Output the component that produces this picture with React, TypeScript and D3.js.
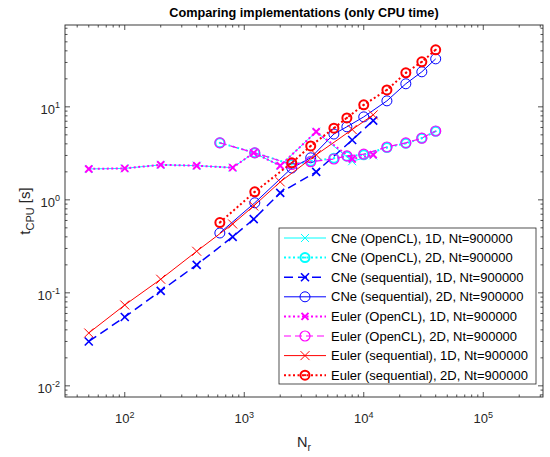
import React from 'react';
import * as d3 from 'd3';

// N_r values for the 1D and 2D runs
const nr1D = [50, 100, 200, 400, 800, 1200, 2000, 4000, 8000, 12000];
const nr2D = [625, 1225, 2500, 3600, 5625, 7225, 10000, 15625, 22500, 30625, 40000];

// CPU times [s]
const cneOpenCL1D = [2.15, 2.18, 2.38, 2.33, 2.22, 3.2, 2.33, 5.4, 2.6, 3.0];
const cneOpenCL2D = [4.1, 3.2, 2.4, 2.6, 2.8, 2.95, 3.05, 3.65, 4.05, 4.6, 5.45];
const cneSeq1D = [0.03, 0.055, 0.105, 0.2, 0.4, 0.62, 1.19, 2.0, 4.4, 7.1];
const cneSeq2D = [0.44, 0.93, 2.2, 2.83, 5.1, 6.1, 7.8, 11.6, 17.7, 23.8, 32.8];
const eulerOpenCL1D = [2.15, 2.18, 2.38, 2.33, 2.22, 3.2, 2.33, 5.4, 2.75, 3.05];
const eulerOpenCL2D = [4.1, 3.2, 2.4, 2.57, 2.75, 2.97, 3.1, 3.7, 4.1, 4.6, 5.5];
const eulerSeq1D = [0.037, 0.074, 0.14, 0.28, 0.55, 0.86, 1.56, 3.05, 5.7, 8.2];
const eulerSeq2D = [0.57, 1.22, 2.5, 3.8, 5.9, 7.6, 10.5, 15.2, 23.2, 30.5, 41];

const xMajor = [1e2, 1e3, 1e4, 1e5];
const yMajor = [1e-2, 1e-1, 1e0, 1e1];

type Series = {
  name: string;
  xs: number[];
  ys: number[];
  color: string;
  dash: string | null;
  lw: number;
  marker: 'x' | 'o';
  mlw: number;
  size: number;
  dotted?: boolean;
};

const series: Series[] = [
  { name: 'CNe (OpenCL), 1D, Nt=900000', xs: nr1D, ys: cneOpenCL1D, color: '#00ffff', dash: null, lw: 1, marker: 'x', mlw: 1, size: 4 },
  { name: 'CNe (OpenCL), 2D, Nt=900000', xs: nr2D, ys: cneOpenCL2D, color: '#00ffff', dash: '2 2.5', lw: 2, marker: 'o', mlw: 2, size: 4.5, dotted: true },
  { name: 'CNe (sequential), 1D, Nt=900000', xs: nr1D, ys: cneSeq1D, color: '#0000ff', dash: '9 5', lw: 1.5, marker: 'x', mlw: 1.6, size: 4 },
  { name: 'CNe (sequential), 2D, Nt=900000', xs: nr2D, ys: cneSeq2D, color: '#0000ff', dash: null, lw: 1, marker: 'o', mlw: 1, size: 5 },
  { name: 'Euler (OpenCL), 1D, Nt=900000', xs: nr1D, ys: eulerOpenCL1D, color: '#ff00ff', dash: '2 2.5', lw: 2, marker: 'x', mlw: 2, size: 3.5 },
  { name: 'Euler (OpenCL), 2D, Nt=900000', xs: nr2D, ys: eulerOpenCL2D, color: '#ff00ff', dash: '7 4', lw: 1.2, marker: 'o', mlw: 1.2, size: 5 },
  { name: 'Euler (sequential), 1D, Nt=900000', xs: nr1D, ys: eulerSeq1D, color: '#ff0000', dash: null, lw: 1, marker: 'x', mlw: 1, size: 4.5 },
  { name: 'Euler (sequential), 2D, Nt=900000', xs: nr2D, ys: eulerSeq2D, color: '#ff0000', dash: '2 2.5', lw: 2, marker: 'o', mlw: 2, size: 4.5, dotted: true },
];

const W = 550;
const H = 457;
const L = 65, R = 543, T = 25, B = 397;
const FONT = "'Liberation Sans', Arial, Helvetica, sans-serif";
const AX = '#262626';

const x = d3.scaleLog().domain([Math.pow(10, 1.5), Math.pow(10, 5.5)]).range([L, R]);
const y = d3.scaleLog().domain([Math.pow(10, -2.12), Math.pow(10, 1.88)]).range([B, T]);

const isMajor = (v: number) => Math.abs(Math.log10(v) - Math.round(Math.log10(v))) < 1e-9;

function Marker({ s, cx, cy }: { s: Series; cx: number; cy: number }) {
  const r = s.size;
  if (s.marker === 'x') {
    return (
      <path
        d={`M${cx - r},${cy - r}L${cx + r},${cy + r}M${cx - r},${cy + r}L${cx + r},${cy - r}`}
        stroke={s.color}
        strokeWidth={s.mlw}
        fill="none"
      />
    );
  }
  return (
    <g>
      <circle cx={cx} cy={cy} r={r} stroke={s.color} strokeWidth={s.mlw} fill="none" />
      {s.dotted && <circle cx={cx} cy={cy} r={1.1} fill={s.color} />}
    </g>
  );
}

function Pow10({ e, ...rest }: { e: number } & React.SVGProps<SVGTextElement>) {
  return (
    <text {...rest}>
      10
      <tspan dy={-5.5} fontSize={9}>{e}</tspan>
    </text>
  );
}

export default function App() {
  const line = d3.line<[number, number]>().x(d => x(d[0])).y(d => y(d[1]));
  const xTicks = x.ticks().filter(v => v >= x.domain()[0] && v <= x.domain()[1]);
  const yTicks = y.ticks().filter(v => v >= y.domain()[0] && v <= y.domain()[1]);

  const legX = 279, legY = 228, legW = 257, legH = 156;
  const rowH = 19.6;

  return (
    <svg
      width={W}
      height={H}
      viewBox={`0 0 ${W} ${H}`}
      style={{ position: 'absolute', left: 0, top: 0, background: '#fff' }}
      fontFamily={FONT}
    >
      <rect x={0} y={0} width={W} height={H} fill="#fff" />
      <rect x={L} y={T} width={R - L} height={B - T} fill="#fff" />

      {/* ticks */}
      <g stroke={AX} strokeWidth={0.8}>
        {xTicks.map(v => {
          const len = isMajor(v) ? 5 : 2.5;
          const px = x(v);
          return (
            <g key={'xt' + v}>
              <line x1={px} x2={px} y1={B} y2={B - len} />
              <line x1={px} x2={px} y1={T} y2={T + len} />
            </g>
          );
        })}
        {yTicks.map(v => {
          const len = isMajor(v) ? 5 : 2.5;
          const py = y(v);
          return (
            <g key={'yt' + v}>
              <line x1={L} x2={L + len} y1={py} y2={py} />
              <line x1={R} x2={R - len} y1={py} y2={py} />
            </g>
          );
        })}
      </g>

      {/* series */}
      {series.map(s => {
        const pts = s.xs.map((v, i) => [v, s.ys[i]] as [number, number]);
        return (
          <g key={s.name}>
            <path
              d={line(pts) ?? ''}
              fill="none"
              stroke={s.color}
              strokeWidth={s.lw}
              strokeDasharray={s.dash ?? undefined}
            />
            {pts.map((p, i) => (
              <Marker key={i} s={s} cx={x(p[0])} cy={y(p[1])} />
            ))}
          </g>
        );
      })}

      {/* axes box */}
      <rect x={L} y={T} width={R - L} height={B - T} fill="none" stroke={AX} strokeWidth={0.9} />

      {/* tick labels */}
      <g fill={AX} fontSize={13}>
        {xMajor.map(v => (
          <Pow10 key={'xl' + v} e={Math.round(Math.log10(v))} x={x(v)} y={423} textAnchor="middle" />
        ))}
        {yMajor.map(v => (
          <Pow10 key={'yl' + v} e={Math.round(Math.log10(v))} x={60} y={y(v) + 7} textAnchor="end" />
        ))}
      </g>

      {/* axis labels */}
      <text x={(L + R) / 2} y={447} textAnchor="middle" fontSize={14.5} fill={AX}>
        N<tspan dy={4} fontSize={10.5}>r</tspan>
      </text>
      <text transform={`translate(30,${(T + B) / 2}) rotate(-90)`} textAnchor="middle" fontSize={15} fill={AX}>
        t<tspan dy={4} fontSize={11}>CPU</tspan>
        <tspan dy={-4}> [s]</tspan>
      </text>

      {/* title */}
      <text x={(L + R) / 2} y={17} textAnchor="middle" fontSize={12.7} fontWeight="bold" fill="#000">
        Comparing implementations (only CPU time)
      </text>

      {/* legend */}
      <rect x={legX} y={legY} width={legW} height={legH} fill="#fff" stroke={AX} strokeWidth={0.8} />
      {series.map((s, i) => {
        const cy = legY + 10 + i * rowH;
        return (
          <g key={'lg' + i}>
            <line x1={legX + 5} x2={legX + 47} y1={cy} y2={cy} stroke={s.color} strokeWidth={s.lw} strokeDasharray={s.dash ?? undefined} />
            <Marker s={s} cx={legX + 26} cy={cy} />
            <text x={legX + 52} y={cy + 4.6} fontSize={13} fill="#000">
              {s.name}
            </text>
          </g>
        );
      })}
    </svg>
  );
}
